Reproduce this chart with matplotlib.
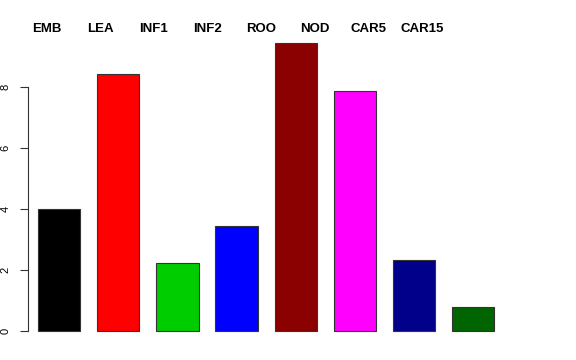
import numpy as np
import matplotlib
matplotlib.use("Agg")
import matplotlib.pyplot as plt

plt.rcParams['font.family'] = ['Liberation Sans', 'DejaVu Sans']

names = ["EMB", "LEA", "INF1", "INF2", "ROO", "NOD", "CAR5", "CAR15"]
values = [4.0, 8.43, 2.23, 3.44, 9.44, 7.87, 2.33, 0.79]
colors = ["#000000", "#FF0000", "#00CD00", "#0000FF",
          "#8B0000", "#FF00FF", "#00008B", "#006400"]
yticks = [0, 2, 4, 6, 8]

W, H = 576, 360
fig = plt.figure(figsize=(W / 100, H / 100), dpi=100)
# axes placed in pixel units (R-style plot region)
scale = 42.25
left, right = 28.3, 28.3 + 11.6 * scale
top, bottom = 31.5, 342.5
ax = fig.add_axes([left / W, 1 - bottom / H, (right - left) / W, (bottom - top) / H])

x = 0.73 + 1.4 * np.arange(len(values))
ax.bar(x, values, width=1.0, color=colors, edgecolor="#333333", linewidth=0.8)

ax.set_xlim(0, 11.6)
ax.set_ylim(-0.378, 9.818)
for s in ["top", "right", "bottom"]:
    ax.spines[s].set_visible(False)
ax.spines["left"].set_bounds(0, 8)
ax.spines["left"].set_color("#333333")
ax.spines["left"].set_linewidth(0.8)
ax.set_xticks([])
ax.set_yticks(yticks)
ax.set_yticklabels([str(t) for t in yticks], rotation=90, va="center")
ax.tick_params(axis="y", length=5.8, width=0.8, color="#333333", labelsize=8, pad=7)

# group names along the top
for i, n in enumerate(names):
    fig.text((46.5 + 53.7 * i) / W, 1 - 29 / H, n, ha="center", va="center",
             fontsize=9.5, fontweight="bold")

plt.savefig("out.png", dpi=100)
